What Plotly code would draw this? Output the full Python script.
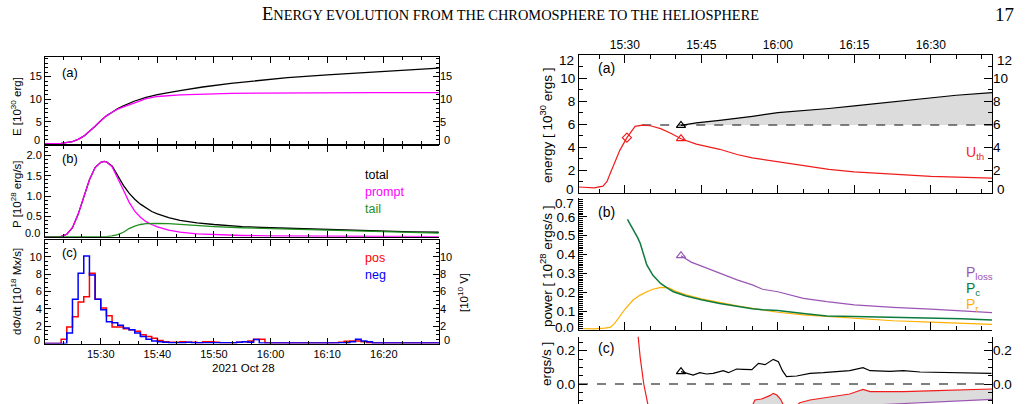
import numpy as np
import pandas as pd
import plotly.graph_objects as go

W, H = 1025, 404
BASE = pd.Timestamp("2021-10-28 15:00:00")


def tt(mins):
    return [BASE + pd.Timedelta(seconds=round(float(m) * 60)) for m in mins]


def PX(x):
    return x / W


def PY(y):
    return 1 - y / H


# ---------------- LEFT FIGURE DATA (minutes after 15:00) ----------------
# (a) energy [1e30 erg]
e_t = [20, 23, 25, 26, 27, 28, 29, 30, 31, 32, 33, 34, 35, 36, 38, 40, 44, 48, 53, 58, 63, 70, 78, 89.7]
e_total = [0.1, 0.2, 0.6, 1.1, 1.8, 2.8, 4.0, 5.2, 6.3, 7.1, 7.9, 8.5, 9.1, 9.6, 10.4, 11.0, 11.9, 12.7,
           13.5, 14.2, 14.8, 15.4, 16.0, 16.9]
e_prompt = [0.1, 0.2, 0.6, 1.1, 1.8, 2.8, 4.0, 5.2, 6.3, 7.1, 7.8, 8.3, 8.8, 9.2, 10.1, 10.6, 10.95, 11.15,
            11.3, 11.35, 11.4, 11.42, 11.44, 11.45]

# (b) power [1e28 erg/s]
p_t = [20, 22, 23, 24, 25, 26, 27, 28, 29, 30, 30.6, 31, 32, 33, 34, 35, 36, 37, 38, 39, 40, 42, 44, 47,
       50, 55, 60, 65, 70, 75, 80, 85, 89.7]
p_prompt = [0, 0.005, 0.01, 0.06, 0.22, 0.55, 0.98, 1.4, 1.7, 1.83, 1.85, 1.84, 1.72, 1.45, 1.15, 0.85,
            0.63, 0.48, 0.37, 0.3, 0.24, 0.16, 0.11, 0.07, 0.05, 0.03, 0.02, 0.015, 0.01, 0.005, 0.003,
            0.002, 0.0]
p_tail = [0, 0, 0, 0, 0, 0, 0, 0, 0, 0, 0, 0.0, 0.02, 0.05, 0.11, 0.2, 0.26, 0.3, 0.32, 0.33, 0.33, 0.32,
          0.3, 0.28, 0.25, 0.22, 0.2, 0.18, 0.16, 0.14, 0.12, 0.1, 0.09]
p_total = [0, 0.005, 0.01, 0.06, 0.22, 0.55, 0.98, 1.4, 1.7, 1.83, 1.85, 1.84, 1.74, 1.5, 1.26, 1.07,
           0.92, 0.8, 0.7, 0.62, 0.56, 0.47, 0.4, 0.34, 0.3, 0.25, 0.22, 0.2, 0.17, 0.15, 0.13, 0.12, 0.11]

# (c) flux rate [1e18 Mx/s], one-minute bins starting 15:20
h_start = list(range(20, 90))
h_pos = [0, 0, 0, 0.5, 1.9, 3.1, 4.8, 5.4, 8.1, 5.1,
         4.1, 3.2, 1.9, 1.9, 1.7, 1.6, 1.4, 1.0, 0.8, 0.6,
         0.35, 0.2, 0.15, 0.15, 0.2, 0.15, 0.15, 0.1, 0.2, 0.2,
         0.15, 0.1, 0.1, 0.1, 0.15, 0.2, 0.3, 0.5, 0.5, 0.1,
         0.05, 0.05, 0.05, 0.05, 0.05, 0.05, 0.05, 0.05, 0.05, 0.05,
         0.05, 0.1, 0.15, 0.25, 0.3, 0.3, 0.2, 0.1, 0.05, 0.05,
         0.05, 0.05, 0.05, 0.05, 0.05, 0.05, 0.05, 0.05, 0.05, 0.05]
h_neg = [0, 0, 0, 0, 1.2, 5.1, 8.1, 10.1, 7.9, 5.1,
         3.9, 2.5, 2.4, 2.1, 1.8, 1.6, 1.2, 0.8, 0.5, 0.3,
         0.2, 0.15, 0.1, 0.1, 0.1, 0.15, 0.1, 0.1, 0.1, 0.1,
         0.1, 0.1, 0.1, 0.1, 0.15, 0.2, 0.15, 0.45, 0.05, 0.05,
         0.05, 0.05, 0.05, 0.05, 0.05, 0.05, 0.05, 0.05, 0.05, 0.05,
         0.05, 0.05, 0.1, 0.1, 0.2, 0.5, 0.3, 0.2, 0.05, 0.05,
         0.05, 0.05, 0.05, 0.05, 0.05, 0.05, 0.05, 0.05, 0.05, 0.05]

# ---------------- RIGHT FIGURE DATA (minutes after 15:00) ----------------
# (a) energy [1e30 ergs]
u_t = [21, 22.5, 24, 25.7, 26.5, 27.1, 28, 29, 30.4, 31.2, 32, 33.4, 35, 37, 39, 41, 44, 48.6, 52, 55,
       60, 65, 70, 75, 82.6, 90, 102]
u_th = [0.52, 0.5, 0.45, 0.6, 1.0, 1.68, 2.7, 3.71, 4.81, 5.35, 5.8, 5.91, 5.85, 5.6, 5.2, 4.72, 4.25,
        3.8, 3.35, 3.05, 2.72, 2.35, 2.05, 1.84, 1.62, 1.45, 1.3]
k_t = [41, 44, 48.6, 52, 55, 60, 65, 70, 75, 80, 85, 90, 95, 102]
k_e = [5.88, 6.1, 6.32, 6.5, 6.67, 6.99, 7.15, 7.35, 7.57, 7.8, 8.05, 8.29, 8.5, 8.72]

# (b) power [1e28 ergs/s]
pc_t = [30.5, 31.5, 32.5, 33, 34.3, 35.5, 37, 38.5, 39.5, 42, 45, 48.6, 52, 55, 57, 60, 65, 69.6, 75,
        82.6, 90, 96, 102]
p_c = [0.587, 0.54, 0.49, 0.46, 0.345, 0.29, 0.247, 0.22, 0.203, 0.18, 0.16, 0.141, 0.125, 0.113, 0.108,
       0.103, 0.088, 0.074, 0.071, 0.067, 0.065, 0.06, 0.053]
pr_t = [21, 24, 26, 27.1, 28, 29, 30, 31.6, 33, 34.3, 35.5, 37, 38.6, 40, 42, 45, 48.6, 52, 55, 57, 60,
        65, 69.6, 75, 82.6, 90, 102]
p_r = [0.008, 0.006, 0.01, 0.014, 0.035, 0.071, 0.11, 0.159, 0.185, 0.203, 0.216, 0.226, 0.224, 0.205,
       0.186, 0.165, 0.145, 0.128, 0.115, 0.106, 0.094, 0.08, 0.071, 0.062, 0.049, 0.042, 0.03]
pl_t = [41, 43, 45.3, 48.6, 52, 55, 57, 60, 62, 63, 65, 69.6, 75, 82.6, 90, 102]
p_loss = [0.394, 0.36, 0.336, 0.3, 0.266, 0.239, 0.216, 0.203, 0.19, 0.18, 0.168, 0.15, 0.133, 0.12,
          0.111, 0.092]

# (c) power balance [1e28 ergs/s]
cb_t = [41.0, 43.4, 44.7, 46.0, 47.3, 49.3, 50.3, 51.9, 53.2, 54.9, 56.2, 57.5, 59.1, 60.1, 60.9, 61.7,
        63.7, 66.3, 68.9, 70.9, 74.1, 76.7, 78.1, 82.0, 84.6, 87.9, 91.1, 94.4, 97.7, 101.9]
c_black = [0.074, 0.054, 0.068, 0.06, 0.064, 0.08, 0.068, 0.09, 0.088, 0.086, 0.124, 0.116, 0.148, 0.134,
           0.08, 0.044, 0.048, 0.064, 0.068, 0.074, 0.08, 0.098, 0.08, 0.076, 0.08, 0.072, 0.07, 0.068,
           0.068, 0.064]
cr_t = [30.0, 31.0, 32.0, 32.6, 33.0, 33.7, 34.4, 35.0, 37, 40, 45, 50, 53, 55, 55.5, 56.8, 58.4, 59.1,
        59.8, 60.5, 61.2, 62, 63, 64.3, 66.3, 70.2, 74.1, 75.5, 76.7, 78.1, 84.6, 91.1, 102]
c_red = [2.0, 0.9, 0.45, 0.285, 0.16, 0.0, -0.12, -0.25, -0.5, -0.6, -0.5, -0.35, -0.2, -0.13, -0.096,
         -0.09, -0.07, -0.056, -0.066, -0.09, -0.13, -0.18, -0.15, -0.112, -0.096, -0.08, -0.06, -0.045,
         -0.032, -0.046, -0.046, -0.04, -0.03]
c_purple = [-v for v in p_loss]

# ---------------- STYLE ----------------
FONT = "Liberation Sans"
MAG, GRN, RED, BLU = "#ff00ff", "#1f8f1f", "#ff0000", "#0000ff"
RRED, RPUR, RGRN, RORA = "#f01c1c", "#9a55b4", "#0d7a3e", "#ffb000"
GRAY = "#dcdcdc"

L_X = [PX(45), PX(439)]
R_X = [PX(579), PX(992)]
L_RANGE = tt([20.15, 89.75])
R_RANGE = tt([21, 102])

fig = go.Figure()


def line(x, y, color, xa, ya, width=1.3, dash=None, shape="linear"):
    fig.add_trace(go.Scatter(x=tt(x), y=y, mode="lines", xaxis=xa, yaxis=ya, hoverinfo="skip",
                             line=dict(color=color, width=width, dash=dash, shape=shape), showlegend=False))


def marker(x, y, color, symbol, xa, ya, size=8):
    fig.add_trace(go.Scatter(x=tt(x), y=y, mode="markers", xaxis=xa, yaxis=ya, hoverinfo="skip",
                             marker=dict(color=color, symbol=symbol, size=size, line=dict(color=color, width=1.2)),
                             showlegend=False))


def dummy(xa, ya, t0):
    fig.add_trace(go.Scatter(x=tt([t0]), y=[None], mode="lines", xaxis=xa, yaxis=ya, showlegend=False,
                             hoverinfo="skip"))


# left (a)
line(e_t, e_total, "black", "x", "y")
line(e_t, e_prompt, MAG, "x", "y")
dummy("x", "y2", 21)
# left (b)
line(p_t, p_total, "black", "x2", "y3")
line(p_t, p_prompt, MAG, "x2", "y3")
line(p_t, p_tail, GRN, "x2", "y3")
# left (c)
line(h_start + [h_start[-1] + 1], h_pos + [h_pos[-1]], RED, "x3", "y4", width=1.5, shape="hv")
line(h_start + [h_start[-1] + 1], h_neg + [h_neg[-1]], BLU, "x3", "y4", width=1.5, shape="hv")
dummy("x3", "y5", 21)

# right (a)
u_peak = max(u_th)
t_peak = u_t[int(np.argmax(u_th))]
fig.add_trace(go.Scatter(x=tt(k_t + k_t[::-1]), y=k_e + [u_peak] * len(k_t), mode="lines", fill="toself",
                         fillcolor=GRAY, line=dict(width=0), xaxis="x4", yaxis="y6", hoverinfo="skip",
                         showlegend=False))
line([t_peak, k_t[-1]], [u_peak, u_peak], "#555555", "x4", "y6", width=1.5, dash="dash")
line(k_t, k_e, "black", "x4", "y6", width=1.2)
line(u_t, u_th, RRED, "x4", "y6", width=1.2)
marker([k_t[0]], [k_e[0]], "black", "triangle-up-open", "x4", "y6")
marker([41], [u_th[u_t.index(41)]], RRED, "triangle-up-open", "x4", "y6")
marker([30.4], [u_th[u_t.index(30.4)]], RRED, "diamond-open", "x4", "y6", size=7)
dummy("x4", "y7", 22)

# right (b)
line(pr_t, p_r, RORA, "x5", "y8", width=1.2)
line(pc_t, p_c, RGRN, "x5", "y8", width=1.5)
line(pl_t, p_loss, RPUR, "x5", "y8", width=1.2)
marker([pl_t[0]], [p_loss[0]], RPUR, "triangle-up-open", "x5", "y8")

# right (c)
red_sub_t = [t for t in cr_t if t >= pl_t[0]]
red_sub_v = [v for t, v in zip(cr_t, c_red) if t >= pl_t[0]]
fig.add_trace(go.Scatter(x=tt(red_sub_t + pl_t[::-1]), y=red_sub_v + c_purple[::-1], mode="lines",
                         fill="toself", fillcolor=GRAY, line=dict(width=0), xaxis="x6", yaxis="y9",
                         hoverinfo="skip", showlegend=False))
line([21, 102], [0, 0], "#555555", "x6", "y9", width=1.5, dash="dash")
line(cr_t, c_red, RRED, "x6", "y9", width=1.2)
line(pl_t, c_purple, RPUR, "x6", "y9", width=1.2)
line(cb_t, c_black, "black", "x6", "y9", width=1.2)
marker([cb_t[0]], [c_black[0]], "black", "triangle-up-open", "x6", "y9")
dummy("x6", "y10", 22)


# ---------------- AXES ----------------
def xdate(domain, anchor, rng, dtick, mdtick, labels=False, side="bottom", mirror="ticks", size=11,
          tl=6, mtl=3, visible=True):
    return dict(domain=domain, anchor=anchor, range=rng, type="date", tick0=tt([30])[0], dtick=dtick,
                tickformat="%H:%M", showticklabels=labels, side=side, ticks="inside", ticklen=tl,
                tickcolor="black", showline=True, linecolor="black", linewidth=1, mirror=mirror,
                showgrid=False, zeroline=False, visible=visible,
                tickfont=dict(family=FONT, size=size, color="black"),
                minor=dict(ticks="inside", ticklen=mtl, dtick=mdtick, tick0=tt([30])[0], tickcolor="black",
                           showgrid=False))


def yax(domain, anchor, rng, vals, mdtick, side="left", mirror=False, size=11,
        overlaying=None, showline=True, tl=6, mtl=3, fmt=None):
    d = dict(domain=domain, anchor=anchor, range=rng, tickmode="array", tickvals=vals,
             side=side, ticks="inside", ticklen=tl, tickcolor="black", showline=showline,
             linecolor="black", linewidth=1, mirror=mirror, showgrid=False, zeroline=False,
             tickfont=dict(family=FONT, size=size, color="black"),
             minor=dict(ticks="inside", ticklen=mtl, dtick=mdtick, tick0=0, tickcolor="black",
                        showgrid=False))
    if fmt:
        d["tickformat"] = fmt
    if overlaying:
        d["overlaying"] = overlaying
    return d


# labelled tick values (edge labels are drawn separately, nudged inward as in the original)
la_vals = [5, 10, 15]
lb_vals = [0.5, 1.0, 1.5, 2.0]
lc_vals = [2, 4, 6, 8, 10]
ra_vals = [2, 4, 6, 8, 10]
rb_vals = [0.1, 0.2, 0.3, 0.4, 0.5, 0.6]
rc_vals = [0, 0.2]

LA = [PY(144.3), PY(57)]
LB = [PY(236.7), PY(146)]
LC = [PY(343.5), PY(240)]
RA = [PY(193), PY(55)]
RB = [PY(330), PY(198)]
RC = [0, PY(336.7)]
RS = 13.5

layout = dict(
    width=W, height=H, margin=dict(l=0, r=0, t=0, b=0), paper_bgcolor="white", plot_bgcolor="rgba(0,0,0,0)",
    showlegend=False,
    xaxis=xdate(L_X, "y", L_RANGE, 600000, 200000),
    yaxis=yax(LA, "x", [0, 19.35], la_vals, 1, mirror=True),
    yaxis2=yax(LA, "x", [0, 19.35], la_vals, 1, side="right", overlaying="y", showline=False),
    xaxis2=xdate(L_X, "y3", L_RANGE, 600000, 200000),
    yaxis3=yax(LB, "x2", [0, 2.23], lb_vals, 0.1, fmt=".1f"),
    xaxis3=xdate(L_X, "y4", L_RANGE, 600000, 200000, labels=True),
    yaxis4=yax(LC, "x3", [0, 11.95], lc_vals, 0.5, mirror=True),
    yaxis5=yax(LC, "x3", [0, 11.95], lc_vals, 0.5, side="right", overlaying="y4", showline=False),
    xaxis4=xdate(R_X, "y6", R_RANGE, 900000, 300000, labels=True, side="top", size=12, tl=8, mtl=4),
    yaxis6=yax(RA, "x4", [0, 12], ra_vals, 1, mirror=True, size=RS, tl=8, mtl=4),
    yaxis7=yax(RA, "x4", [0, 12], ra_vals, 1, side="right", overlaying="y6", showline=False,
               size=RS, tl=8, mtl=4),
    xaxis5=xdate(R_X, "y8", R_RANGE, 900000, 300000, mirror=False, tl=8, mtl=4),
    yaxis8=yax(RB, "x5", [0, 0.7], rb_vals, 0.01, size=RS, tl=8, mtl=4, fmt=".1f"),
    xaxis6=xdate(R_X, "y9", R_RANGE, 900000, 300000, visible=False),
    yaxis9=yax(RC, "x6", [-0.12, 0.284], rc_vals, 0.05, mirror=True, size=RS, tl=8, mtl=4, fmt=".1f"),
    yaxis10=yax(RC, "x6", [-0.12, 0.284], rc_vals, 0.05, side="right", overlaying="y9",
                showline=False, size=RS, tl=8, mtl=4, fmt=".1f"),
)
fig.update_layout(**layout)

# ---------------- TEXT ----------------
anns = []


def ann(text, x, y, size=12, color="black", xanchor="center", yanchor="middle", angle=0, family=FONT):
    anns.append(dict(text=text, x=PX(x), y=PY(y), xref="paper", yref="paper", showarrow=False,
                     xanchor=xanchor, yanchor=yanchor, textangle=angle,
                     font=dict(family=family, size=size, color=color)))


ann("<span style='font-size:18.5px'>E</span>NERGY EVOLUTION FROM THE CHROMOSPHERE TO THE HELIOSPHERE",
    510, 14, size=14.4, family="Liberation Serif")
ann("17", 1016, 14, size=19, xanchor="right", family="Liberation Serif")

# edge tick labels, nudged inward
ann("0", 42, 140, size=11, xanchor="right")
ann("0", 442, 140, size=11, xanchor="left")
ann("0.0", 42, 233, size=11, xanchor="right")
ann("0", 42, 340, size=11, xanchor="right")
ann("0", 442, 340, size=11, xanchor="left")
ann("0", 576, 189, size=RS, xanchor="right")
ann("12", 576, 60, size=RS, xanchor="right")
ann("0", 995, 189, size=RS, xanchor="left")
ann("12", 995, 60, size=RS, xanchor="left")
ann("0.0", 576, 327, size=RS, xanchor="right")
ann("0.7", 576, 203, size=RS, xanchor="right")

# left figure
ann("(a)", 60, 73, size=13, xanchor="left")
ann("(b)", 60, 158, size=13, xanchor="left")
ann("(c)", 60, 252, size=13, xanchor="left")
ann("total", 363, 175, size=12.5, xanchor="left")
ann("prompt", 363, 192, size=12.5, color=MAG, xanchor="left")
ann("tail", 363, 209, size=12.5, color=GRN, xanchor="left")
ann("pos", 363, 258, size=12.5, color=RED, xanchor="left")
ann("neg", 363, 275, size=12.5, color=BLU, xanchor="left")
ann("E [10<sup>30</sup> erg]", 16, 107, size=11.5, angle=-90)
ann("P [10<sup>28</sup> erg/s]", 16, 194, size=11.5, angle=-90)
ann("d\u03a6/dt [10<sup>18</sup> Mx/s]", 16, 292, size=11.5, angle=-90)
ann("[10<sup>10</sup> V]", 463, 293, size=11.5, angle=-90)
ann("2021 Oct 28", 243, 368, size=11.5)

# right figure
ann("(a)", 596, 68, size=14, xanchor="left")
ann("(b)", 596, 212, size=14, xanchor="left")
ann("(c)", 596, 348, size=14, xanchor="left")
ann("energy [ 10<sup>30</sup> ergs ]", 546, 125, size=13.5, angle=-90)
ann("power [ 10<sup>28</sup> ergs/s ]", 546, 266, size=13.5, angle=-90)
ann("ergs/s ]", 546, 340, size=13.5, angle=-90, yanchor="top")
ann("U<sub>th</sub>", 964, 153, size=14, color=RRED, xanchor="left")
ann("P<sub>loss</sub>", 964, 273, size=14, color=RPUR, xanchor="left")
ann("P<sub>c</sub>", 964, 289, size=14, color=RGRN, xanchor="left")
ann("P<sub>r</sub>", 964, 305, size=14, color=RORA, xanchor="left")

fig.update_layout(annotations=anns)
fig.write_html("out.html")
